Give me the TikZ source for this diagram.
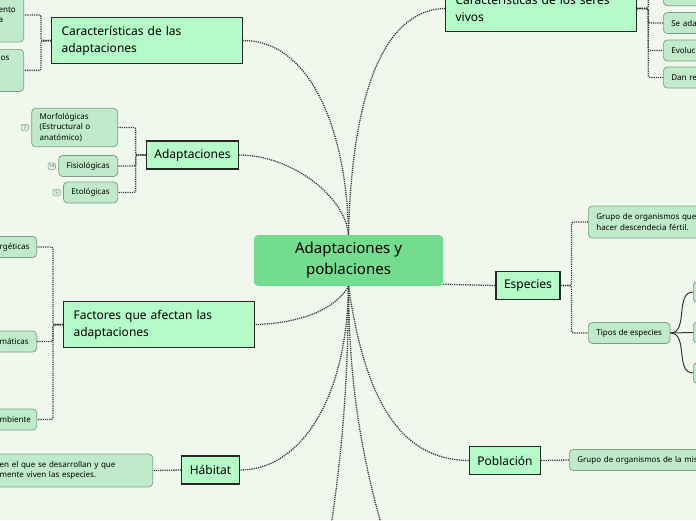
\documentclass[tikz,border=0pt]{standalone}
\usepackage{fontspec}
\setmainfont{Noto Sans}
\usetikzlibrary{positioning}
\definecolor{MapBack}{RGB}{240,248,238}
\definecolor{MapCentral}{RGB}{115,220,142}
\definecolor{MapTopic}{RGB}{181,251,200}
\definecolor{MapSub}{RGB}{192,235,202}
\definecolor{MapSubLine}{RGB}{122,158,130}
\definecolor{MapLink}{RGB}{55,55,55}

\begin{document}
\begin{tikzpicture}[x=1pt, y=-1pt,
	central/.style={fill=MapCentral, rounded corners=4pt, minimum width=189pt,
		minimum height=51pt, align=center, font=\fontsize{15}{21}\selectfont},
	topic/.style={draw=black!85, fill=MapTopic, line width=1.2pt, inner xsep=8pt,
		minimum height=28pt, font=\fontsize{12}{17}\selectfont},
	longtopic/.style={topic, inner xsep=10pt, inner ysep=8pt, text width=171pt,
		align=left, minimum height=46pt},
	subtopic/.style={draw=MapSubLine, fill=MapSub, rounded corners=4pt, line width=0.7pt,
		inner xsep=8pt, inner ysep=5pt, minimum height=21pt, align=left,
		font=\fontsize{8}{10.5}\selectfont},
	badge/.style={draw=MapSubLine, fill=MapBack!60!MapSub, rounded corners=1.5pt,
		line width=0.5pt, inner sep=0.8pt, minimum width=7.5pt, minimum height=6.5pt,
		text=black!65, font=\fontsize{4.5}{5}\selectfont},
	link/.style={draw=MapLink, line width=1.3pt, dash pattern=on 1.2pt off 1pt},
	bracket/.style={link, rounded corners=2pt},
	branch/.style={draw=MapLink, line width=1pt}]
	\useasboundingbox (0,0) rectangle (696,520);
	\fill[MapBack] (0,0) rectangle (696,520);
	\clip (0,0) rectangle (696,520);

	\node[central] (ap) at (348.5,260.5) {Adaptaciones y\\poblaciones};

	\node[longtopic, anchor=north west] (ca) at (51,17) {Características de las\\adaptaciones};
	\node[topic] (ad) at (192.5,155) {Adaptaciones};
	\node[longtopic, anchor=north west] (fa) at (63,301) {Factores que afectan las\\adaptaciones};
	\node[topic] (ha) at (210.5,470) {Hábitat};
	\node[longtopic, anchor=south west] (sv) at (445,32) {Características de los seres\\vivos};
	\node[topic] (es) at (528,285.5) {Especies};
	\node[topic] (po) at (505,460.5) {Población};

	\node[subtopic, anchor=east, text width=17pt, minimum height=54pt] (ca1) at (24,15) {ento\\a};
	\node[subtopic, anchor=north east, text width=17pt, text depth=26pt] (ca2) at (24,49) {los};

	\node[subtopic, anchor=east, text width=70pt] (ad1) at (118,127.5) {Morfológicas\\(Estructural o\\anatómico)};
	\node[subtopic, anchor=east] (ad2) at (118,166) {Fisiológicas};
	\node[subtopic, anchor=east] (ad3) at (118,192.5) {Etológicas};
	\node[badge, left=2.5pt of ad1] (ad1k) {7};
	\node[badge, left=2.5pt of ad2] (ad2k) {10};
	\node[badge, left=2.5pt of ad3] (ad3k) {5};

	\foreach \n/\y/\t in {1/247/rgéticas, 2/341.5/máticas, 3/419.5/mbiente}
		\node[subtopic, anchor=east, text width=29pt] (fa\n) at (37,\y) {\t};

	\node[subtopic, anchor=east, text width=145pt, minimum height=33pt] (ha1) at (153,470.5) {en el que se desarrollan y que\\mente viven las especies.};

	\node[subtopic, anchor=south west, minimum width=60pt] (sv1) at (663,6) {};
	\foreach \n/\y/\t in {2/23/Se ada, 3/50.5/Evoluc, 4/77.5/Dan re}
		\node[subtopic, anchor=west, text width=50pt] (sv\n) at (663,\y) {\t};

	\node[subtopic, anchor=west, text width=130pt, minimum height=32pt] (es1) at (588,222) {Grupo de organismos que\\hacer descendecia fértil.};
	\node[subtopic, anchor=west] (es2) at (588,333) {Tipos de especies};
	\foreach \n/\y in {1/292, 2/332.5, 3/373}
		\node[subtopic, anchor=west, minimum width=40pt] (ti\n) at (693,\y) {};

	\node[subtopic, anchor=west, text width=140pt] (po1) at (569,460) {Grupo de organismos de la mis};

	\coordinate (apr) at ([yshift=2pt]ap.south east);
	\coordinate (dn1) at (326,560);
	\coordinate (dn2) at (392,560);

	\draw[link] (ap.north) .. controls (347,130) and (310,40) .. (ca.east);
	\draw[link] (ap.north) .. controls (345,195) and (290,155) .. (ad.east);
	\draw[link] (ap.north) .. controls (352,90) and (385,10) .. (sv.west);
	\draw[link] (ap.south) .. controls (335,310) and (300,323) .. (fa.east);
	\draw[link] (ap.south) .. controls (347,400) and (300,470) .. (ha.east);
	\draw[link] (ap.south) .. controls (365,400) and (400,460) .. (po.west);
	\draw[link] (ap.south) .. controls (348,400) and (340,470) .. (dn1);
	\draw[link] (ap.south) .. controls (349,380) and (360,460) .. (dn2);
	\draw[link] (apr) -- (es.west);

	\foreach \c in {ca1,ca2}
		\draw[bracket] (ca.west) -- ++(-10,0) |- (\c.east);
	\foreach \c in {ad1,ad2,ad3}
		\draw[bracket] (ad.west) -- ++(-10,0) |- (\c.east);
	\foreach \c in {fa1,fa2,fa3}
		\draw[bracket] (fa.west) -- ++(-10,0) |- (\c.east);
	\foreach \c in {sv1,sv2,sv3,sv4}
		\draw[bracket] (sv.east) -- ++(11,0) |- (\c.west);
	\foreach \c in {es1,es2}
		\draw[bracket] (es.east) -- ++(11,0) |- (\c.west);
	\draw[link] (ha.west) -- (ha1.east);
	\draw[link] (po.east) -- (po1.west);
	\foreach \c in {ti1,ti2,ti3}
		\draw[branch] (es2.east) to[out=0, in=180] (\c.west);
\end{tikzpicture}
\end{document}
